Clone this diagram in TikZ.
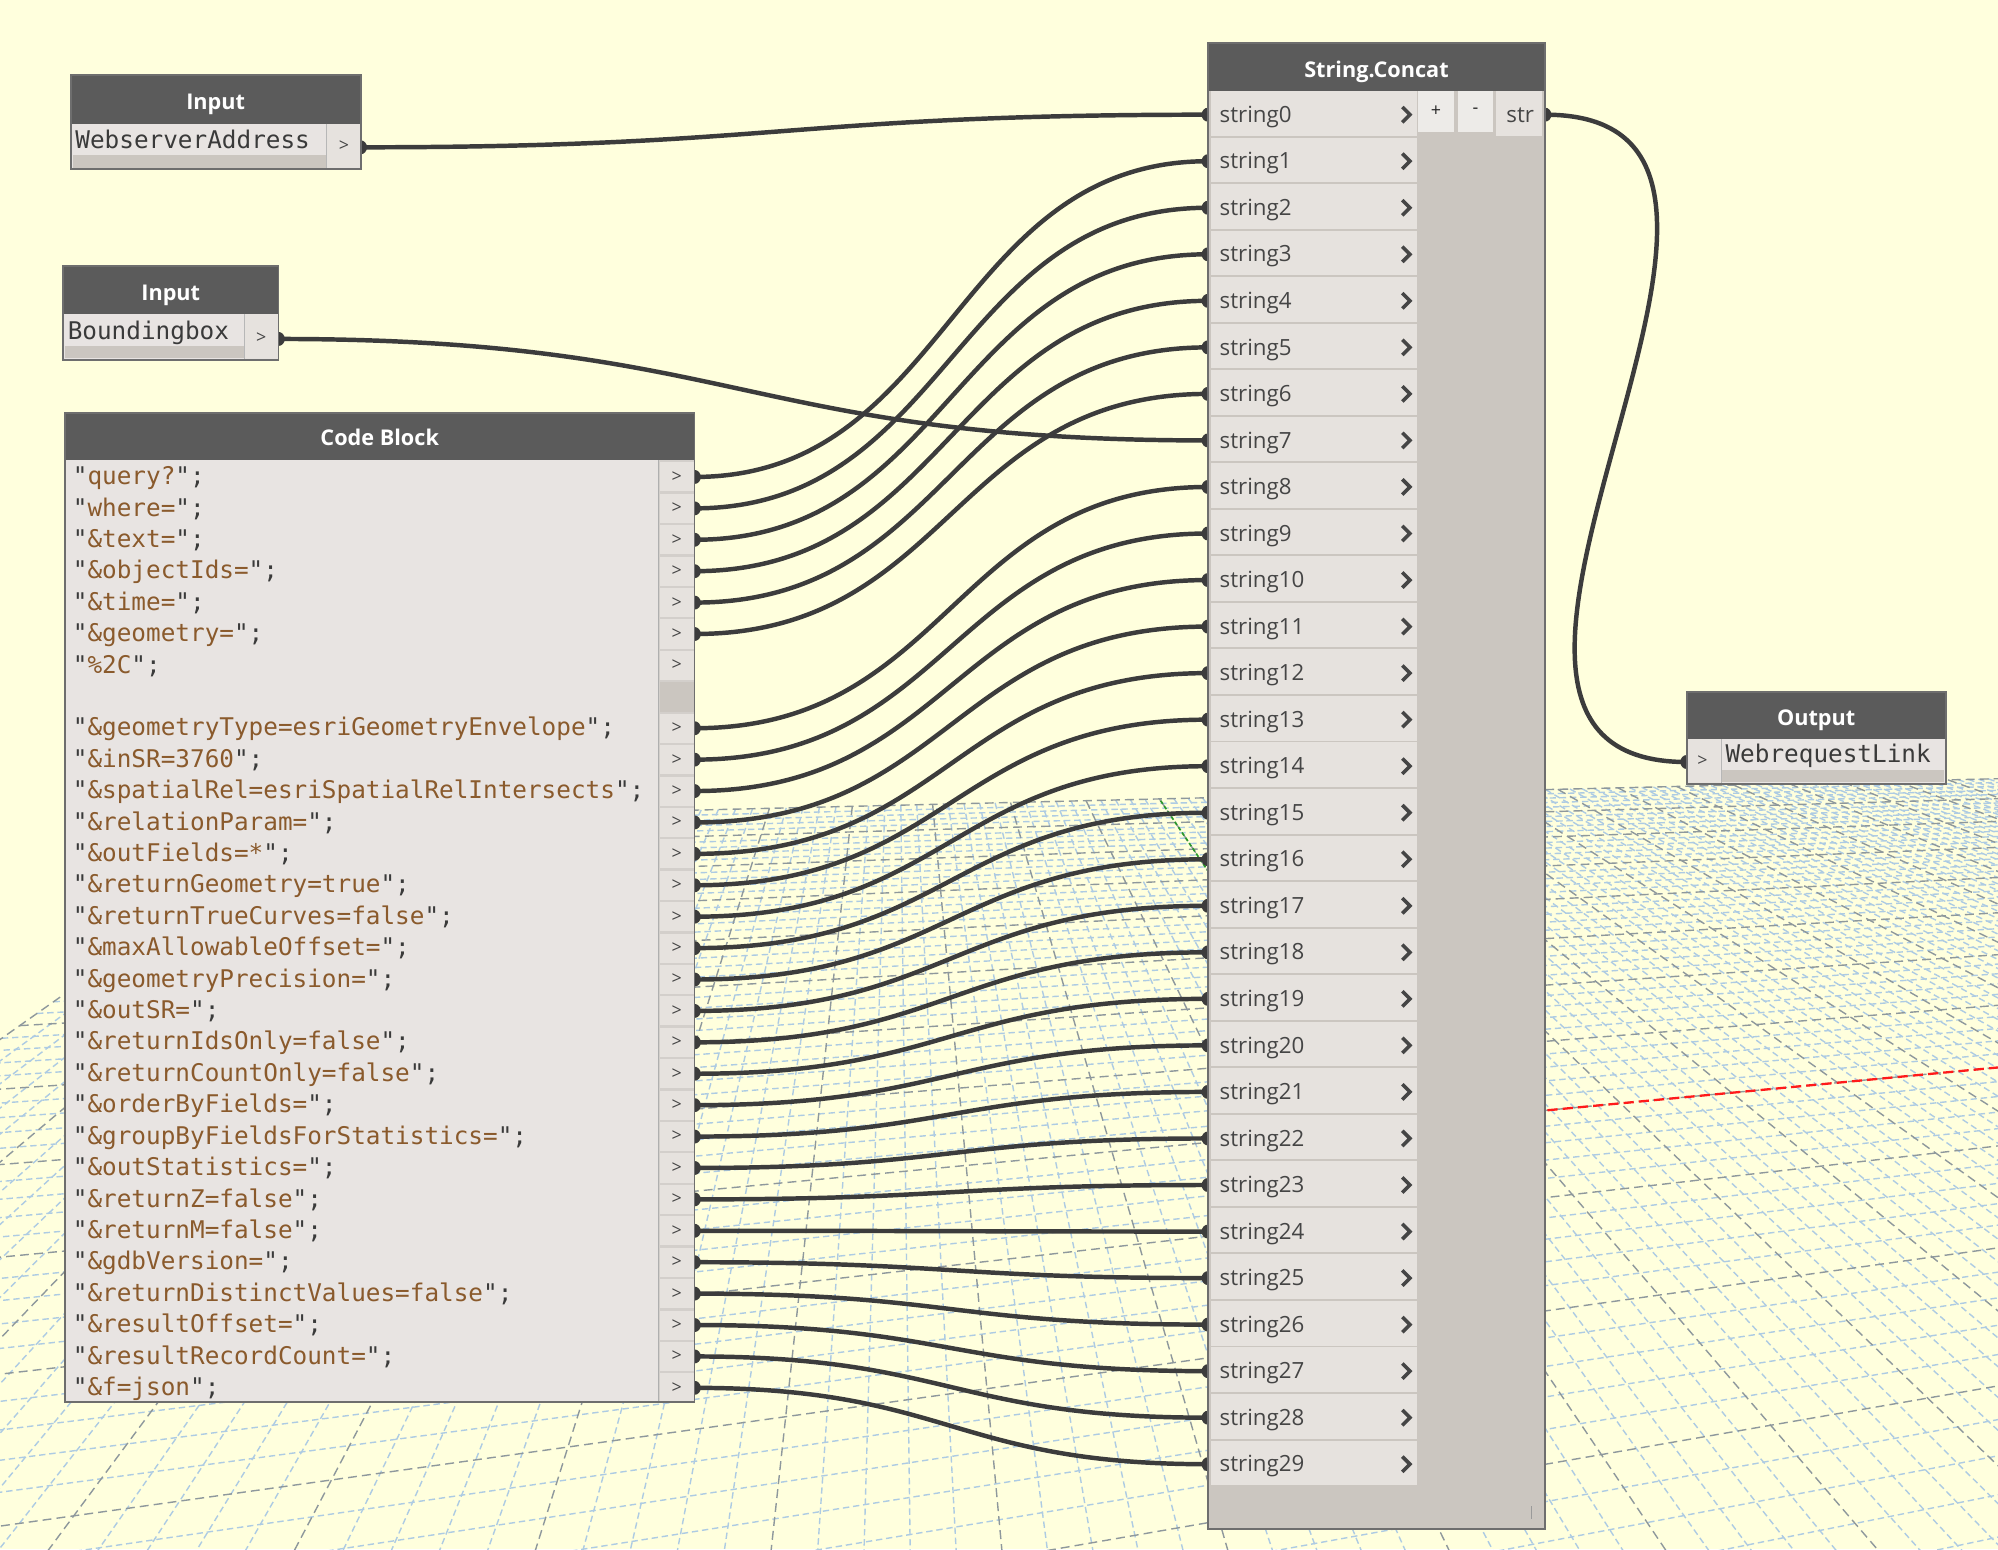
\documentclass[tikz,border=0pt]{standalone}
\usepackage{fontspec}
\setmainfont{Open Sans}
\newfontfamily\monof{DejaVu Sans Mono}
\usetikzlibrary{calc}

\definecolor{bgc}{HTML}{FFFFDD}
\definecolor{hdrc}{HTML}{5B5B5B}
\definecolor{brd}{HTML}{6E6E6E}
\definecolor{rowc}{HTML}{E6E2DE}
\definecolor{darkc}{HTML}{CBC6C0}
\definecolor{txtbg}{HTML}{E8E4E2}
\definecolor{sepc}{HTML}{D3CFCB}
\definecolor{wirec}{HTML}{3C3C3C}
\definecolor{strc}{HTML}{8A5A2C}
\definecolor{qc}{HTML}{3A3A3A}
\definecolor{lblc}{HTML}{454545}
\definecolor{gminc}{HTML}{ADCBE3}
\definecolor{gmajc}{HTML}{8E989C}
\definecolor{axr}{HTML}{FF1A1A}
\definecolor{axg}{HTML}{2A9A2A}

% perspective grid parameters
\def\Cx{245}\def\Cy{643}
\def\Ax{4766}\def\Ay{534}
\def\Bx{703}\def\By{320}
\def\pp{0.00345}\def\qq{0.01335}
\newcommand\gridpt[3]{%
  \pgfmathsetmacro\gd{1+\pp*#1-\qq*#2}%
  \pgfmathsetmacro\gx{(\Cx+\pp*#1*\Ax-\qq*#2*\Bx)/\gd}%
  \pgfmathsetmacro\gy{(\Cy+\pp*#1*\Ay-\qq*#2*\By)/\gd}%
  \coordinate (#3) at (\gx,\gy);}

\newcommand\cbl[1]{{\color{qc}"}{\color{strc}#1}{\color{qc}";}}
\newcommand\codeline[2]{\node[mtext] (cl#1) at (57,{374.3+24.65*#1+6}) {\cbl{#2}};}

\begin{document}
\begin{tikzpicture}[x=1pt,y=-1pt,
  wire/.style={draw=wirec, line width=3.5pt},
  frame/.style={draw=brd, line width=1.4pt},
  htext/.style={text=white, font=\bfseries\fontsize{17}{20}\selectfont, inner sep=0pt, anchor=base},
  lbl/.style={text=lblc, font=\fontsize{17.5}{20}\selectfont, inner sep=0pt, anchor=base west},
  mtext/.style={text=qc, font=\monof\fontsize{19.1}{22}\selectfont, inner sep=0pt, anchor=base west},
  ptext/.style={text=lblc, font=\fontsize{14}{16}\selectfont, inner sep=0pt},
  chev/.style={draw=lblc, line width=2.8pt},
  gmin/.style={draw=gminc, line width=1.1pt, dash pattern=on 5pt off 3pt},
  gmaj/.style={draw=gmajc, line width=1.1pt, dash pattern=on 7pt off 4pt},
  dotc/.style={fill=wirec}]

\fill[bgc] (0,0) rectangle (1568,1216);
\useasboundingbox (0,0) rectangle (1568,1216);

% ---------- ground grid ----------
\begin{scope}
\clip (0,0) rectangle (1568,1216);
\foreach \s in {0,...,140}{%
  \pgfmathtruncatemacro\m{mod(\s,5)}%
  \ifnum\m>0 \gridpt{\s}{0}{ga}\gridpt{\s}{62}{gb}\draw[gmin] (ga)--(gb);\fi}
\foreach \t in {0,...,62}{%
  \pgfmathtruncatemacro\m{mod(\t,5)}%
  \ifnum\m>0 \gridpt{0}{\t}{ga}\gridpt{140}{\t}{gb}\draw[gmin] (ga)--(gb);\fi}
\foreach \s in {0,5,...,140}{%
  \gridpt{\s}{0}{ga}\gridpt{\s}{62}{gb}\draw[gmaj] (ga)--(gb);}
\foreach \t in {0,5,...,60}{%
  \gridpt{0}{\t}{ga}\gridpt{140}{\t}{gb}\draw[gmaj] (ga)--(gb);}
\gridpt{50}{40}{orig}\gridpt{140}{40}{xend}\gridpt{50}{0}{yend}
\draw[axr, line width=1.8pt, dash pattern=on 8pt off 4pt] (orig)--(xend);
\draw[axg, line width=1.3pt, dash pattern=on 3pt off 2pt] (orig)--(yend);
\end{scope}

% ---------- port coordinates ----------
\coordinate (in1o) at (283,115.6);
\coordinate (in2o) at (218.5,266);
\foreach \k in {0,...,29}{\coordinate (c\k) at (545,{374.3+24.65*\k});}
\foreach \i in {0,...,29}{\coordinate (s\i) at (948,{90+36.52*\i});}
\coordinate (sout) at (1212.5,90);
\coordinate (oin) at (1323.7,598);

% ---------- wires ----------
\draw[wire] (in1o) .. controls +(330,0) and +(-330,0) .. (s0);
\draw[wire] (in2o) .. controls +(362,0) and +(-362,0) .. (s7);
\foreach \k in {0,...,5}{\pgfmathtruncatemacro\j{\k+1}%
  \draw[wire] (c\k) .. controls +(200,0) and +(-200,0) .. (s\j);}
\foreach \k in {8,...,29}{%
  \draw[wire] (c\k) .. controls +(200,0) and +(-200,0) .. (s\k);}
\draw[wire] (sout) .. controls +(250,0) and +(-250,0) .. (oin);

% port dots
\foreach \k in {0,...,5,8,9,...,29}{\fill[dotc] (c\k) ellipse (5pt and 5.5pt);}
\foreach \i in {0,...,29}{\fill[dotc] (s\i) ellipse (5pt and 5.5pt);}
\fill[dotc] (in1o) ellipse (5pt and 5.5pt);
\fill[dotc] (in2o) ellipse (5pt and 5.5pt);
\fill[dotc] (sout) ellipse (5pt and 5.5pt);
\fill[dotc] (oin) ellipse (5pt and 5.5pt);

% ---------- Input 1 ----------
\fill[hdrc] (55.5,59) rectangle (283,97);
\fill[txtbg] (55.5,97) rectangle (283,132.7);
\fill[darkc] (57,122) rectangle (256,131.5);
\fill[rowc] (256.5,97) rectangle (283,132.7);
\draw[brd!50, line width=0.8pt] (256,97) -- (256,132.7);
\draw[frame] (55.5,59) rectangle (283,132.7);
\node[htext] (in1h) at (169.25,86) {Input};
\node[mtext] (in1t) at (59,116.5) {WebserverAddress};
\node[ptext] (in1p) at (270,115) {>};

% ---------- Input 2 ----------
\fill[hdrc] (49.5,208.7) rectangle (218.5,246.3);
\fill[txtbg] (49.5,246.3) rectangle (218.5,282.4);
\fill[darkc] (51,271.5) rectangle (191.5,281);
\fill[rowc] (192,246.3) rectangle (218.5,282.4);
\draw[brd!50, line width=0.8pt] (191.5,246.3) -- (191.5,282.4);
\draw[frame] (49.5,208.7) rectangle (218.5,282.4);
\node[htext] (in2h) at (134,236) {Input};
\node[mtext] (in2t) at (53,266.5) {Boundingbox};
\node[ptext] (in2p) at (205,265) {>};

% ---------- Code Block ----------
\fill[hdrc] (51,324) rectangle (545,361);
\fill[txtbg] (51,361) rectangle (545,1100);
\fill[sepc] (517,361) rectangle (545,1100);
\foreach \k in {0,...,29}{%
  \ifnum\k=7 \fill[darkc] (518,{374.3+24.65*\k-11.6}) rectangle (545,{374.3+24.65*\k+11.6});
  \else \fill[rowc] (518,{374.3+24.65*\k-11.4}) rectangle (545,{374.3+24.65*\k+11.4});
  \node[ptext] (cp\k) at (531,{374.3+24.65*\k}) {>};\fi}
\draw[brd!55, line width=0.9pt] (517,361) -- (517,1100);
\draw[frame] (51,324) rectangle (545,1100);
\node[htext] (cbh) at (298,350) {Code Block};
\codeline{0}{query?}
\codeline{1}{where=}
\codeline{2}{\&text=}
\codeline{3}{\&objectIds=}
\codeline{4}{\&time=}
\codeline{5}{\&geometry=}
\codeline{6}{\%2C}
\codeline{8}{\&geometryType=esriGeometryEnvelope}
\codeline{9}{\&inSR=3760}
\codeline{10}{\&spatialRel=esriSpatialRelIntersects}
\codeline{11}{\&relationParam=}
\codeline{12}{\&outFields=*}
\codeline{13}{\&returnGeometry=true}
\codeline{14}{\&returnTrueCurves=false}
\codeline{15}{\&maxAllowableOffset=}
\codeline{16}{\&geometryPrecision=}
\codeline{17}{\&outSR=}
\codeline{18}{\&returnIdsOnly=false}
\codeline{19}{\&returnCountOnly=false}
\codeline{20}{\&orderByFields=}
\codeline{21}{\&groupByFieldsForStatistics=}
\codeline{22}{\&outStatistics=}
\codeline{23}{\&returnZ=false}
\codeline{24}{\&returnM=false}
\codeline{25}{\&gdbVersion=}
\codeline{26}{\&returnDistinctValues=false}
\codeline{27}{\&resultOffset=}
\codeline{28}{\&resultRecordCount=}
\codeline{29}{\&f=json}

% ---------- String.Concat ----------
\fill[hdrc] (948,34) rectangle (1212.5,71.4);
\fill[darkc] (948,71.4) rectangle (1212.5,1200);
\foreach \i in {0,...,29}{%
  \fill[rowc] (950,{90+36.52*\i-18.6}) rectangle (1112,{90+36.52*\i+16.4});
  \node[lbl] (sl\i) at (957,{90+36.52*\i+6}) {string\i};
  \draw[chev] (1100.5,{90+36.52*\i-6}) -- (1106.5,{90+36.52*\i}) -- (1100.5,{90+36.52*\i+6});}
\fill[rowc!70!white] (1113,71.4) rectangle (1141,103.4);
\fill[rowc!70!white] (1144,71.4) rectangle (1172,103.4);
\fill[rowc] (1174,71.4) rectangle (1210,106.5);
\node[ptext, text=black!85] (plus) at (1127,87) {+};
\node[ptext, text=black!85] (minus) at (1158,87) {-};
\node[lbl, anchor=base] (strl) at (1193,96) {str};
\draw[brd!70, line width=1pt] (1202,1182) -- (1202,1192);
\draw[frame] (948,34) rectangle (1212.5,1200);
\node[htext] (sch) at (1080.25,60.5) {String.Concat};

% ---------- Output ----------
\fill[hdrc] (1323.7,543) rectangle (1527,580);
\fill[txtbg] (1323.7,580) rectangle (1527,615);
\fill[rowc] (1323.7,580) rectangle (1350.2,615);
\fill[darkc] (1351.5,604) rectangle (1525.5,614);
\draw[brd!50, line width=0.8pt] (1350.7,580) -- (1350.7,615);
\draw[frame] (1323.7,543) rectangle (1527,615);
\node[htext] (outh) at (1425.3,569) {Output};
\node[mtext] (outt) at (1354,598) {WebrequestLink};
\node[ptext] (outp) at (1336,597) {>};
\end{tikzpicture}
\end{document}
